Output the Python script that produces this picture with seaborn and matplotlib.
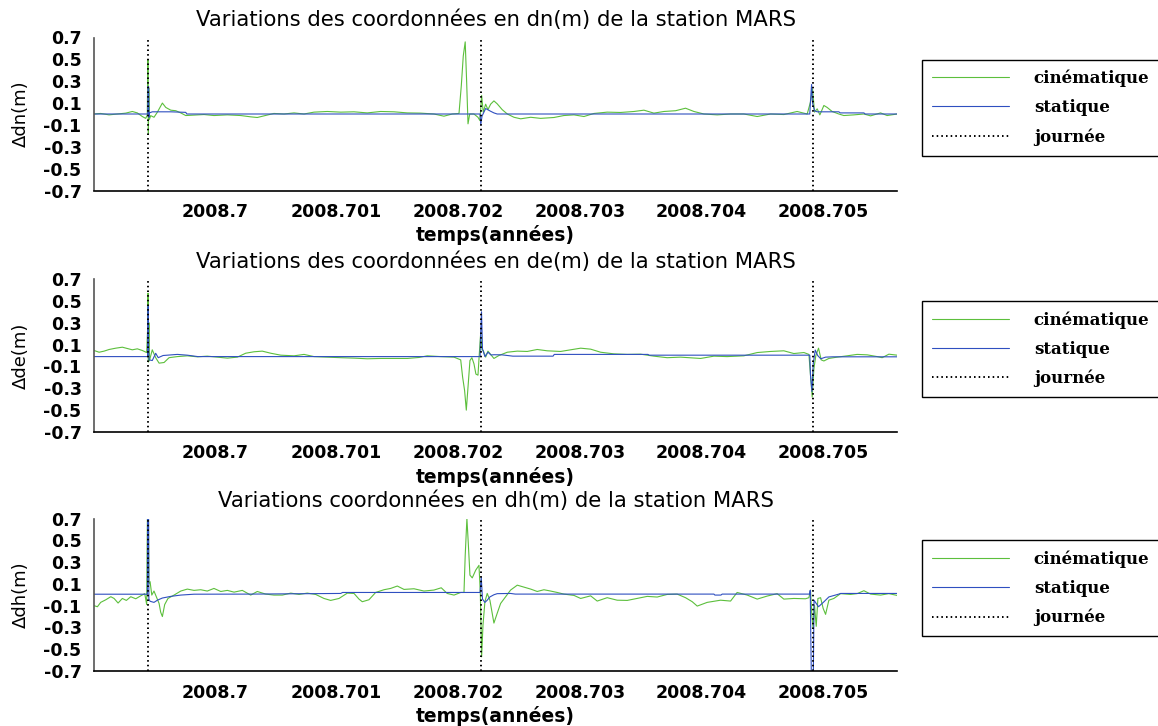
import numpy as np
import pandas as pd
import matplotlib
matplotlib.use("Agg")
import matplotlib.pyplot as plt
import seaborn as sns

# ---------------- data ----------------
T0 = 2008.699  # time values below are in micro-years after T0

# dn (north)
dn_kin_t = [7, 62, 131, 199, 268, 322, 363, 404, 432, 445, 450, 454, 457, 462, 473, 500, 528, 555, 569, 597,
            638, 679, 720, 761, 829, 911, 993, 1103, 1213, 1295, 1349, 1404, 1486, 1569, 1651, 1733, 1815, 1924,
            2035, 2144, 2253, 2363, 2473, 2582, 2692, 2801, 2883, 2952, 3007, 3026, 3042, 3058, 3070, 3081, 3095,
            3130, 3163, 3179, 3193, 3206, 3226, 3245, 3267, 3294, 3321, 3362, 3404, 3459, 3514, 3596, 3678, 3787,
            3869, 3952, 4034, 4116, 4225, 4335, 4445, 4527, 4609, 4691, 4787, 4869, 4938, 5020, 5129, 5239, 5348,
            5458, 5568, 5677, 5786, 5869, 5896, 5913, 5929, 5951, 5973, 6006, 6033, 6074, 6129, 6170, 6252, 6335,
            6390, 6472, 6526, 6608]
dn_kin_v = [0.0, 0.005, -0.008, 0.0, 0.008, 0.023, 0.01, -0.023, -0.04, -0.01, 0.5, -0.18, 0.24, -0.05, -0.015,
            -0.03, 0.017, 0.072, 0.10, 0.06, 0.035, 0.03, 0.01, -0.014, -0.01, -0.005, -0.014, -0.008, -0.014,
            -0.026, -0.032, -0.017, 0.005, 0.0, 0.01, 0.0, 0.017, 0.023, 0.017, 0.02, 0.01, 0.023, 0.02, 0.01,
            0.008, 0.0, -0.02, 0.0, 0.005, 0.26, 0.53, 0.66, 0.29, -0.09, 0.0, 0.0, -0.03, -0.06, 0.17, 0.017,
            0.09, 0.04, 0.09, 0.12, 0.093, 0.04, 0.0, -0.03, -0.044, -0.03, -0.04, -0.032, -0.014, -0.008, -0.023,
            0.005, 0.017, 0.014, 0.023, 0.035, 0.008, 0.023, 0.03, 0.053, 0.023, 0.0, -0.008, 0.0, 0.0, -0.023,
            0.0, -0.005, 0.023, 0.0, 0.11, 0.23, 0.017, 0.047, -0.008, 0.078, 0.06, 0.023, 0.0, -0.014, -0.008,
            0.0, -0.017, 0.01, -0.014, 0.0]
dn_sta_t = [7, 449, 451, 456, 458, 462, 486, 638, 761, 770, 3180, 3186, 3196, 3226, 3267, 3294, 3321, 5890,
            5896, 5905, 5913, 5929, 5951, 6129, 6140, 6335, 6345, 6608]
dn_sta_v = [0.0, 0.0, 0.25, 0.25, -0.03, 0.01, 0.02, 0.02, 0.015, 0.0, 0.0, -0.10, -0.02, 0.05, 0.025, 0.01,
            0.0, 0.0, 0.12, 0.27, 0.10, 0.03, 0.02, 0.02, 0.01, 0.01, 0.0, 0.0]

# de (east)
de_kin_t = [7, 49, 90, 131, 186, 240, 281, 322, 363, 404, 440, 448, 451, 454, 458, 462, 486, 514, 542, 583,
            624, 692, 774, 856, 938, 1021, 1103, 1185, 1254, 1322, 1390, 1459, 1542, 1651, 1733, 1815, 1924,
            2035, 2144, 2253, 2363, 2473, 2582, 2678, 2746, 2856, 2966, 3021, 3037, 3053, 3067, 3081, 3097, 3113,
            3130, 3146, 3163, 3173, 3185, 3196, 3206, 3226, 3245, 3267, 3294, 3335, 3404, 3486, 3568, 3650, 3732,
            3842, 3924, 4007, 4089, 4171, 4280, 4390, 4500, 4609, 4718, 4828, 4993, 5102, 5211, 5348, 5458, 5568,
            5677, 5759, 5842, 5883, 5896, 5910, 5924, 5940, 5962, 5984, 6006, 6047, 6115, 6197, 6279, 6362, 6444,
            6485, 6540, 6608]
de_kin_v = [0.046, 0.03, 0.04, 0.055, 0.067, 0.076, 0.064, 0.052, 0.061, 0.046, 0.027, 0.25, 0.57, -0.06, 0.3,
            -0.05, 0.052, -0.02, -0.07, -0.064, -0.02, -0.01, -0.003, -0.012, -0.006, -0.015, -0.024, -0.015,
            0.021, 0.034, 0.04, 0.021, 0.003, -0.003, 0.01, -0.01, -0.015, -0.02, -0.024, -0.03, -0.027, -0.027,
            -0.027, -0.018, -0.003, -0.01, -0.015, -0.04, -0.2, -0.32, -0.5, -0.29, -0.046, -0.02, -0.076, -0.17,
            -0.18, 0.0, 0.2, 0.05, 0.046, -0.015, 0.04, 0.01, -0.027, 0.0, 0.03, 0.04, 0.037, 0.055, 0.043, 0.037,
            0.052, 0.067, 0.058, 0.03, 0.015, 0.01, 0.012, -0.006, -0.02, -0.015, -0.027, -0.006, -0.01, -0.003,
            0.027, 0.037, 0.043, 0.018, 0.027, 0.01, -0.18, -0.38, -0.12, 0.0, 0.067, -0.04, -0.05, -0.027,
            -0.015, -0.003, 0.01, 0.006, -0.01, -0.02, 0.012, 0.003]
de_sta_t = [7, 447, 449, 452, 456, 460, 486, 514, 535, 575, 692, 774, 860, 3180, 3185, 3192, 3200, 3220, 3245,
            3270, 3294, 3360, 3450, 3780, 3790, 4560, 4570, 5890, 5896, 5908, 5918, 5935, 5955, 5980, 6020, 6080,
            6608]
de_sta_v = [-0.01, -0.01, 0.2, 0.45, 0.05, -0.04, -0.046, 0.02, -0.02, 0.0, 0.01, 0.003, -0.01, -0.01, 0.2,
            0.4, 0.06, -0.01, 0.03, 0.005, 0.007, 0.006, -0.006, -0.006, 0.01, 0.01, 0.003, 0.003, -0.18, -0.33,
            -0.08, 0.05, 0.0, -0.03, -0.015, -0.012, -0.012]

# dh (up)
dh_kin_t = [7, 35, 62, 104, 145, 172, 205, 240, 273, 309, 350, 391, 424, 440, 447, 451, 454, 458, 468, 482, 500,
            523, 542, 555, 569, 588, 615, 665, 720, 774, 829, 884, 938, 993, 1049, 1103, 1158, 1226, 1295, 1349,
            1418, 1486, 1555, 1624, 1692, 1760, 1829, 1897, 1952, 2021, 2089, 2144, 2185, 2212, 2267, 2322, 2390,
            2445, 2500, 2555, 2637, 2719, 2801, 2861, 2910, 2966, 3021, 3048, 3058, 3072, 3083, 3097, 3116, 3144,
            3171, 3182, 3193, 3204, 3220, 3239, 3261, 3280, 3294, 3321, 3349, 3390, 3431, 3486, 3541, 3596, 3650,
            3705, 3760, 3814, 3869, 3952, 4007, 4089, 4143, 4225, 4307, 4390, 4472, 4554, 4636, 4718, 4800, 4869,
            4924, 4965, 5047, 5157, 5239, 5293, 5376, 5458, 5540, 5622, 5677, 5759, 5855, 5883, 5896, 5907, 5918,
            5929, 5943, 5957, 5979, 6000, 6020, 6047, 6088, 6143, 6225, 6279, 6335, 6390, 6472, 6540, 6608]
dh_kin_v = [-0.1, -0.11, -0.07, -0.046, -0.018, -0.034, -0.076, -0.034, -0.052, -0.018, -0.037, -0.01, 0.01,
            -0.09, 0.85, 0.2, 0.85, 0.1, 0.12, -0.003, 0.034, -0.027, -0.08, -0.16, -0.2, -0.09, -0.034, -0.003,
            0.034, 0.052, 0.04, 0.046, 0.034, 0.058, 0.03, 0.04, 0.024, 0.04, -0.003, 0.03, 0.006, -0.003, -0.003,
            0.015, 0.003, 0.015, 0.003, -0.034, -0.052, -0.034, 0.015, 0.012, -0.04, -0.064, -0.046, 0.021, 0.046,
            0.058, 0.08, 0.049, 0.055, 0.034, 0.043, 0.064, 0.012, -0.003, 0.021, 0.021, 0.36, 0.7, 0.48, 0.18,
            0.155, 0.225, 0.27, 0.027, -0.57, -0.28, -0.064, 0.012, -0.05, -0.17, -0.26, -0.17, -0.08, -0.018,
            0.043, 0.088, 0.07, 0.052, 0.03, 0.046, 0.034, 0.021, 0.006, -0.006, -0.034, -0.01, -0.058, -0.027,
            -0.05, -0.052, -0.034, -0.015, -0.021, 0.003, 0.006, -0.027, -0.064, -0.104, -0.07, -0.05, -0.058,
            0.021, -0.003, -0.04, -0.012, 0.01, -0.04, -0.034, -0.037, -0.027, 0.043, -0.19, -0.31, -0.095,
            -0.29, -0.034, -0.027, -0.125, -0.18, -0.05, -0.034, 0.01, 0.003, 0.01, 0.037, 0.006, -0.003, 0.01,
            -0.006]
dh_sta_t = [7, 446, 448, 455, 458, 468, 500, 528, 569, 638, 720, 829, 1295, 2035, 2050, 3180, 3190, 3200, 3220,
            3239, 3261, 3294, 3321, 3431, 3470, 5102, 5110, 5160, 5170, 5890, 5894, 5898, 5905, 5918, 5925, 5943,
            5962, 6006, 6047, 6129, 6143, 6608]
dh_sta_v = [0.005, 0.005, 0.85, 0.85, -0.04, -0.06, -0.07, -0.05, -0.03, -0.015, -0.003, 0.005, 0.006, 0.012,
            0.021, 0.021, 0.16, -0.04, -0.07, -0.05, -0.02, 0.0, 0.01, 0.012, 0.006, 0.006, -0.003, -0.003, 0.006,
            0.006, 0.04, -0.34, -0.9, -0.9, -0.05, -0.08, -0.11, -0.065, -0.02, 0.006, 0.012, 0.012]

day_bounds = [2008.699454, 2008.702186, 2008.704918]

x_ticks = [2008.700, 2008.701, 2008.702, 2008.703, 2008.704, 2008.705]
x_tick_labels = ["2008.7", "2008.701", "2008.702", "2008.703", "2008.704", "2008.705"]
y_ticks = [0.7, 0.5, 0.3, 0.1, -0.1, -0.3, -0.5, -0.7]
y_tick_labels = ["0.7", "0.5", "0.3", "0.1", "-0.1", "-0.3", "-0.5", "-0.7"]

titles = ["Variations des coordonnées en dn(m) de la station MARS",
          "Variations des coordonnées en de(m) de la station MARS",
          "Variations coordonnées en dh(m) de la station MARS"]
ylabels = ["Δdn(m)", "Δde(m)", "Δdh(m)"]
legend_labels = ["cinématique", "statique", "journée"]

# ---------------- style ----------------
sns.set_theme(style="white")
plt.rcParams["font.family"] = ["DejaVu Sans"]
plt.rcParams["axes.unicode_minus"] = False
plt.rcParams["text.color"] = "black"
plt.rcParams["axes.labelcolor"] = "black"
plt.rcParams["xtick.color"] = "black"
plt.rcParams["ytick.color"] = "black"

GREEN = "#5cbf3c"
BLUE = "#2f4fc0"

fig = plt.figure(figsize=(11.58, 7.26), dpi=100)
W, H = 1158, 726
panel_px = [(37.5, 190.5), (279.0, 432.0), (518.5, 671.0)]
left_px, right_px = 94, 897

series = [(dn_kin_t, dn_kin_v, dn_sta_t, dn_sta_v),
          (de_kin_t, de_kin_v, de_sta_t, de_sta_v),
          (dh_kin_t, dh_kin_v, dh_sta_t, dh_sta_v)]

for i, ((top, bot), (kt, kv, st, sv)) in enumerate(zip(panel_px, series)):
    ax = fig.add_axes([left_px / W, 1 - bot / H, (right_px - left_px) / W, (bot - top) / H])
    dk = pd.DataFrame({"t": T0 + np.array(kt) * 1e-6, "v": kv})
    ds = pd.DataFrame({"t": T0 + np.array(st) * 1e-6, "v": sv})
    sns.lineplot(data=dk, x="t", y="v", ax=ax, color=GREEN, lw=0.8, estimator=None, sort=False,
                 label=legend_labels[0])
    sns.lineplot(data=ds, x="t", y="v", ax=ax, color=BLUE, lw=0.8, estimator=None, sort=False,
                 label=legend_labels[1])
    for j, d in enumerate(day_bounds):
        ax.axvline(d, color="black", ls=(0, (0.8, 1.6)), lw=1.4,
                   label=legend_labels[2] if j == 0 else None)

    ax.set_xlim(T0 + 7e-6, T0 + 6607e-6)
    ax.set_ylim(-0.7, 0.7)
    ax.set_xticks(x_ticks)
    ax.set_xticklabels(x_tick_labels, fontsize=12.5, fontweight="bold")
    ax.set_yticks(y_ticks)
    ax.set_yticklabels(y_tick_labels, fontsize=12.5, fontweight="bold")
    ax.tick_params(axis="both", direction="in", length=6, width=1, color="black", pad=9)
    ax.tick_params(axis="y", pad=9)
    sns.despine(ax=ax)
    ax.spines["left"].set_color("#555555")
    ax.spines["bottom"].set_color("black")
    ax.spines["left"].set_linewidth(1.2)
    ax.spines["bottom"].set_linewidth(1.2)
    ax.set_xlabel("temps(années)", fontsize=13.5, fontweight="bold", labelpad=3)
    ax.set_ylabel(ylabels[i], fontsize=13, labelpad=10)
    ax.set_title(titles[i], fontsize=15.2, pad=8)

    leg = ax.legend(loc="center left", bbox_to_anchor=(1.021, 0.542), frameon=True, fancybox=False,
                    edgecolor="black", framealpha=1, handlelength=4.6, handletextpad=1.5,
                    labelspacing=0.72, borderpad=0.6,
                    prop={"family": "DejaVu Serif", "weight": "bold", "size": 12})
    leg.get_frame().set_linewidth(1.0)

fig.savefig("out.png", dpi=100)
